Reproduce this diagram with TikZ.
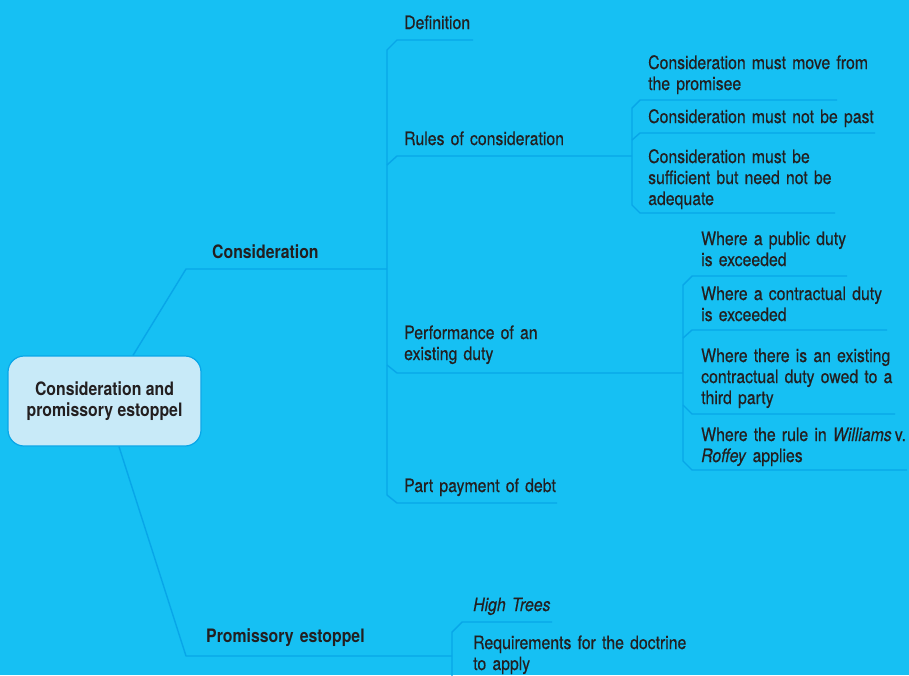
\documentclass[tikz,border=0pt]{standalone}
\usepackage{fontspec}
\setmainfont{TeX Gyre Heros}[FakeStretch=0.855,
  UprightFeatures={FakeBold=0.35}, ItalicFeatures={FakeBold=0.35}]
\usetikzlibrary{calc}

\definecolor{sky}{RGB}{22,192,243}
\definecolor{branchline}{RGB}{8,166,232}
\definecolor{rootfill}{RGB}{200,234,248}
\definecolor{ink}{RGB}{35,31,32}

\begin{document}
\begin{tikzpicture}[x=1pt,y=-1pt,
  branch/.style={draw=branchline, line width=1.4pt, line join=round},
  leaf/.style={anchor=base west, inner sep=0pt, text=ink, align=left,
    text width=260pt, font=\fontsize{18.5}{21}\selectfont},
  head/.style={leaf, font=\fontsize{18.5}{21}\selectfont\bfseries},
  rootbox/.style={draw=branchline, line width=1.2pt, fill=rootfill,
    rounded corners=16pt, minimum width=193pt, minimum height=90pt,
    inner sep=0pt, align=center, text=ink,
    font=\fontsize{18.5}{21}\selectfont\bfseries}]

% canvas
\clip (0,0) rectangle (909,675);
\fill[sky] (0,0) rectangle (909,675);

% central topic
\node[rootbox] (root) at (104.5,401) {Consideration and\\promissory estoppel};

% joints of the main branches
\coordinate (consElbow) at (186,269);
\coordinate (consJoin)  at (387,269);
\coordinate (promElbow) at (186,656);
\coordinate (promJoin)  at (452,656);
% spines of the sub-branches
\coordinate (rulesJoin) at (632,156);
\coordinate (perfJoin)  at (683,373);

% main branches
\draw[branch] ([xshift=28.5pt]root.north) -- (consElbow) -- (consJoin);
\draw[branch] ([xshift=14.5pt]root.south) -- (promElbow) -- (promJoin);

% Consideration: spine and its children
\draw[branch] (473,40) -- (397,40) -- (consJoin |- 0,50) -- (consJoin |- 0,495)
  -- (397,503) -- (557,503);
\draw[branch] (consJoin |- 0,165) -- (397,156) -- (rulesJoin);
\draw[branch] (consJoin |- 0,365) -- (397,373) -- (perfJoin);

% Rules of consideration: spine and its children
\draw[branch] (837,100) -- (640,100) -- (rulesJoin |- 0,108) -- (rulesJoin |- 0,205)
  -- (640,213) -- (835,213);
\draw[branch] (rulesJoin |- 0,140) -- (640,133) -- (875,133);

% Performance of an existing duty: spine and its children
\draw[branch] (847,276) -- (692,276) -- (perfJoin |- 0,285) -- (perfJoin |- 0,461)
  -- (692,470) -- (907,470);
\draw[branch] (perfJoin |- 0,338) -- (692,330) -- (887,330);
\draw[branch] (perfJoin |- 0,405) -- (692,414) -- (895,414);

% Promissory estoppel: spine and its children
\draw[branch] (552,622) -- (462,622) -- (promJoin |- 0,632) -- (promJoin |- 0,684)
  -- (462,693) -- (700,693);

% labels of the main branches
\node[head] (cons) at (212,258) {Consideration};
\node[head] (prom) at (206,642) {Promissory estoppel};

% labels under Consideration
\node[leaf] (defn)  at (404,29)  {Definition};
\node[leaf] (rules) at (404,145) {Rules of consideration};
\node[leaf] (perf)  at (404,339) {Performance of an\\existing duty};
\node[leaf] (part)  at (404,492) {Part payment of debt};

% labels under Rules of consideration
\node[leaf] (move)   at (648,69)  {Consideration must move from\\the promisee};
\node[leaf] (past)   at (648,123) {Consideration must not be past};
\node[leaf] (suff)   at (648,163) {Consideration must be\\sufficient but need not be\\adequate};

% labels under Performance of an existing duty
\node[leaf] (public) at (701,245) {Where a public duty\\is exceeded};
\node[leaf] (contr)  at (701,300) {Where a contractual duty\\is exceeded};
\node[leaf] (third)  at (701,362) {Where there is an existing\\contractual duty owed to a\\third party};
\node[leaf] (wr)     at (701,441) {Where the rule in \textit{Williams}\,v.\\\textit{Roffey} applies};

% labels under Promissory estoppel
\node[leaf] (high) at (473,611) {\textit{High Trees}};
\node[leaf] (req)  at (473,649) {Requirements for the doctrine\\to apply};
\end{tikzpicture}
\end{document}
